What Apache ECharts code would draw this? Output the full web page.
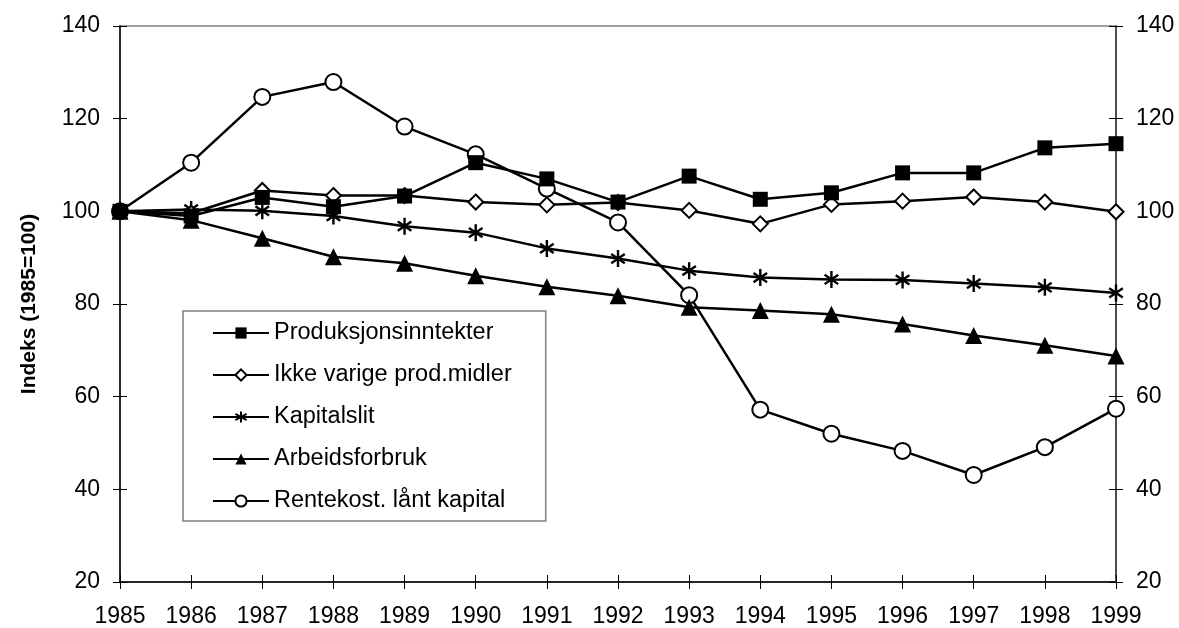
<!DOCTYPE html>
<html>
<head>
<meta charset="utf-8">
<script src="https://cdn.jsdelivr.net/npm/echarts@6/dist/echarts.min.js"></script>
<style>
html,body{margin:0;padding:0;background:#fff;}
#chart{width:1179px;height:628px;}
</style>
</head>
<body>
<div id="chart"></div>
<script>
const years = ['1985','1986','1987','1988','1989','1990','1991','1992','1993','1994','1995','1996','1997','1998','1999'];
const yTicks = [20, 40, 60, 80, 100, 120, 140];
const yAxisTitle = 'Indeks (1985=100)';

const seriesNames = ['Produksjonsinntekter','Ikke varige prod.midler','Kapitalslit','Arbeidsforbruk','Rentekost. lånt kapital'];
const produksjonsinntekter = [100, 99.0, 103.0, 101.0, 103.3, 110.5, 107.0, 102.0, 107.6, 102.6, 104.0, 108.3, 108.3, 113.7, 114.6];
const ikkeVarige          = [100, 99.6, 104.5, 103.4, 103.4, 102.0, 101.4, 101.9, 100.2, 97.3, 101.5, 102.2, 103.1, 102.0, 99.9];
const kapitalslit         = [100, 100.4, 100.1, 99.0, 96.8, 95.4, 92.0, 89.8, 87.2, 85.7, 85.3, 85.2, 84.4, 83.6, 82.4];
const arbeidsforbruk      = [100, 98.1, 94.2, 90.2, 88.8, 86.1, 83.7, 81.8, 79.3, 78.6, 77.8, 75.7, 73.2, 71.1, 68.8];
const rentekost           = [100, 110.5, 124.7, 127.9, 118.3, 112.3, 104.9, 97.6, 81.9, 57.2, 52.0, 48.3, 43.1, 49.1, 57.4];

const FONT = '"Liberation Sans", Arial, sans-serif';
const yMin = yTicks[0], yMax = yTicks[yTicks.length - 1], yStep = yTicks[1] - yTicks[0];

const asterisk = 'path://M10,0L10,20M2,4.5L18,15.5M2,15.5L18,4.5';

function mk(name, data, symbol, size, itemStyle) {
  return {
    name: name,
    type: 'line',
    data: data,
    symbol: symbol,
    symbolSize: size,
    symbolKeepAspect: true,
    showAllSymbol: true,
    lineStyle: { color: '#000', width: 2.5 },
    itemStyle: itemStyle,
    emphasis: { disabled: true },
    animation: false,
    z: 3
  };
}

const series = [
  mk(seriesNames[4], rentekost, 'circle', 16, { color: '#fff', borderColor: '#000', borderWidth: 2 }),
  mk(seriesNames[3], arbeidsforbruk, 'triangle', 17, { color: '#000', borderColor: '#000', borderWidth: 0 }),
  mk(seriesNames[2], kapitalslit, asterisk, 17, { color: 'none', borderColor: '#000', borderWidth: 2.4 }),
  mk(seriesNames[1], ikkeVarige, 'diamond', 15, { color: '#fff', borderColor: '#000', borderWidth: 2 }),
  mk(seriesNames[0], produksjonsinntekter, 'rect', 15, { color: '#000', borderColor: '#000', borderWidth: 0 })
];

const labelStyle = { color: '#000', fontSize: 23, fontFamily: FONT };

const chart = echarts.init(document.getElementById('chart'), null, { renderer: 'canvas' });
chart.setOption({
  backgroundColor: '#fff',
  animation: false,
  grid: { left: 120, right: 63, top: 26, bottom: 44, show: true, borderColor: '#808080', borderWidth: 1.5, containLabel: false },
  legend: {
    data: seriesNames,
    orient: 'vertical',
    left: 183,
    top: 311,
    itemWidth: 56,
    itemHeight: 14,
    itemGap: 18,
    itemTextGap: 5,
    padding: [10, 34, 8, 29],
    borderColor: '#808080',
    borderWidth: 1.5,
    backgroundColor: '#fff',
    textStyle: { color: '#000', fontSize: 23.5, fontFamily: FONT },
    selectedMode: false
  },
  xAxis: [
    {
      type: 'category', data: years, boundaryGap: false,
      axisLine: { show: true, lineStyle: { color: '#000', width: 1.5 } },
      axisTick: { show: true, inside: false, length: 7, alignWithLabel: true, lineStyle: { color: '#000', width: 1 } },
      axisLabel: Object.assign({ margin: 23, interval: 0 }, labelStyle),
      splitLine: { show: false }
    },
    {
      type: 'category', data: years, boundaryGap: false, position: 'bottom',
      axisLine: { show: false },
      axisTick: { show: true, inside: true, length: 7, lineStyle: { color: '#000', width: 1 } },
      axisLabel: { show: false }, splitLine: { show: false }
    }
  ],
  yAxis: [
    {
      type: 'value', min: yMin, max: yMax, interval: yStep, position: 'left',
      name: yAxisTitle, nameLocation: 'middle', nameGap: 80, nameRotate: 90,
      nameTextStyle: { color: '#000', fontSize: 21, fontWeight: 'bold', fontFamily: FONT },
      axisLine: { show: true, lineStyle: { color: '#000', width: 1.5 } },
      axisTick: { show: true, length: 7, lineStyle: { color: '#000', width: 1 } },
      axisLabel: Object.assign({ margin: 20 }, labelStyle),
      splitLine: { show: false }
    },
    {
      type: 'value', min: yMin, max: yMax, interval: yStep, position: 'right',
      axisLine: { show: true, lineStyle: { color: '#333', width: 1.5 } },
      axisTick: { show: true, length: 7, lineStyle: { color: '#000', width: 1 } },
      axisLabel: Object.assign({ margin: 20 }, labelStyle),
      splitLine: { show: false }
    },
    {
      type: 'value', min: yMin, max: yMax, interval: yStep, position: 'left',
      axisLine: { show: false },
      axisTick: { show: true, inside: true, length: 7, lineStyle: { color: '#000', width: 1 } },
      axisLabel: { show: false }, splitLine: { show: false }
    },
    {
      type: 'value', min: yMin, max: yMax, interval: yStep, position: 'right',
      axisLine: { show: false },
      axisTick: { show: true, inside: true, length: 7, lineStyle: { color: '#000', width: 1 } },
      axisLabel: { show: false }, splitLine: { show: false }
    }
  ],
  series: series
});
</script>
</body>
</html>
